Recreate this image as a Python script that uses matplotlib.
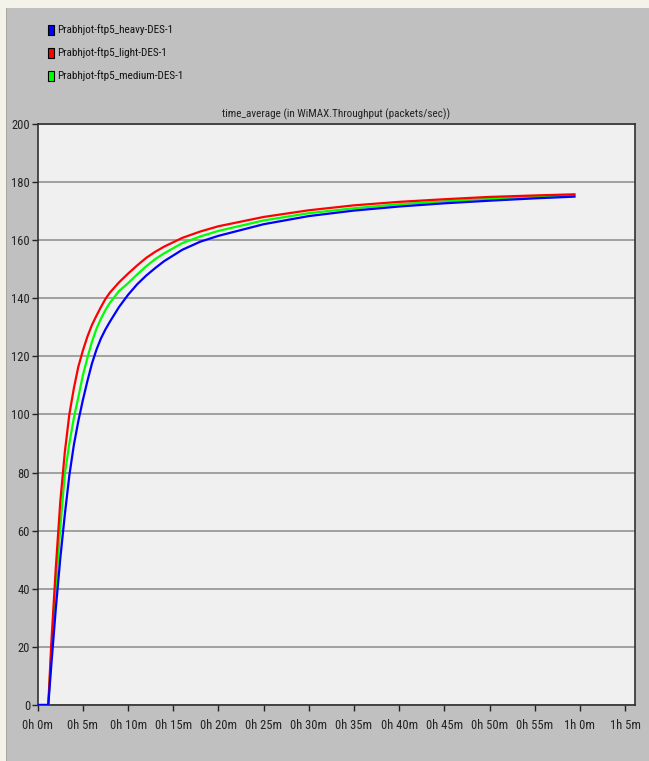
import matplotlib
matplotlib.use('Agg')
from matplotlib import pyplot as plt
from matplotlib.patches import Rectangle

# time in minutes, throughput in packets/sec
minutes = [0, 1.17, 1.5, 2, 2.5, 3, 3.5, 4, 4.5, 5, 5.5, 6, 6.5, 7, 7.5, 8, 9, 10, 11, 12,
           13, 14, 16, 18, 20, 25, 30, 35, 40, 45, 50, 55, 59.4]
heavy = [0, 0, 13.5, 33, 50.5, 65.5, 79, 89.5, 97.8, 105, 111.5, 117.5, 122.3, 126.2, 129.3,
         132, 137, 141.2, 144.8, 147.8, 150.4, 152.8, 156.7, 159.5, 161.5, 165.5, 168.3,
         170.2, 171.6, 172.7, 173.6, 174.4, 175.0]
light = [0, 0, 21, 47, 70, 87, 100, 109, 116.5, 122, 126.8, 130.8, 134, 137, 139.8, 142, 145.5,
         148.5, 151.3, 153.9, 156, 157.8, 160.8, 163, 164.8, 168, 170.3, 172, 173.2, 174.1,
         174.9, 175.4, 175.8]
medium = [0, 0, 17.5, 40, 61, 79.5, 90, 98.8, 106, 113.5, 119.5, 125, 129.5, 133, 136, 138.5,
          142.5, 145.2, 148.2, 151, 153.5, 155.5, 159, 161.3, 163.2, 166.8, 169.3, 171, 172.4,
          173.4, 174.3, 174.9, 175.4]

names = ['Prabhjot-ftp5_heavy-DES-1', 'Prabhjot-ftp5_light-DES-1', 'Prabhjot-ftp5_medium-DES-1']
colors = ['#0000ff', '#ff0000', '#00ff00']
tick_minutes = list(range(0, 70, 5))
y_ticks = list(range(0, 220, 20))

plt.rcParams['font.family'] = ['Roboto Condensed', 'PT Sans Narrow', 'Liberation Sans', 'DejaVu Sans']

fig = plt.figure(figsize=(6.49, 7.61), dpi=100)
fig.patch.set_facecolor('#c0c0c0')
# window border strips
fig.patches.append(Rectangle((0, 0), 6 / 649, 1, transform=fig.transFigure,
                             facecolor='#f3f3ea', edgecolor='none'))
fig.patches.append(Rectangle((0, 1 - 8 / 761), 1, 8 / 761, transform=fig.transFigure,
                             facecolor='#f3f3ea', edgecolor='none'))
fig.patches.append(Rectangle((6 / 649, 0), 1 / 649, 1 - 8 / 761, transform=fig.transFigure,
                             facecolor='#a8a8a0', edgecolor='none'))

ax = fig.add_axes([37.7 / 649, 1 - 705 / 761, (635 - 37.7) / 649, (705 - 124) / 761])
ax.set_facecolor('#f0f0f0')

ax.plot(minutes, medium, color='#00ff00', lw=1.6, zorder=3)
ax.plot(minutes, light, color='#ff0000', lw=1.6, zorder=3)
ax.plot(minutes, heavy, color='#0000ff', lw=1.6, zorder=4)

ax.set_xlim(0, 66.1)
ax.set_ylim(0, 200)
ax.set_xticks(tick_minutes)
ax.set_xticklabels(['%dh %dm' % (m // 60, m % 60) for m in tick_minutes])
ax.set_yticks(y_ticks)
ax.tick_params(labelsize=9, length=4, width=1, colors='#222222')
ax.tick_params(axis='x', pad=6)
ax.tick_params(axis='y', pad=1.5)
ax.grid(axis='y', color='#a0a0a0', lw=1.4)
for s in ax.spines.values():
    s.set_color('#303030')
    s.set_linewidth(1.2)
ax.set_title('time_average (in WiMAX.Throughput (packets/sec))', fontsize=8, pad=5,
             color='#222222')

# legend: coloured boxes with labels
for i, (name, c) in enumerate(zip(names, colors)):
    yc = 30 + i * 23
    fig.patches.append(Rectangle((48 / 649, 1 - (yc + 5) / 761), 6 / 649, 10 / 761,
                                 transform=fig.transFigure, facecolor=c,
                                 edgecolor='black', lw=0.8))
    fig.text(57 / 649, 1 - yc / 761, name, fontsize=8, va='center', ha='left',
             color='#111111')

plt.savefig('out.png', dpi=100, facecolor=fig.get_facecolor())
